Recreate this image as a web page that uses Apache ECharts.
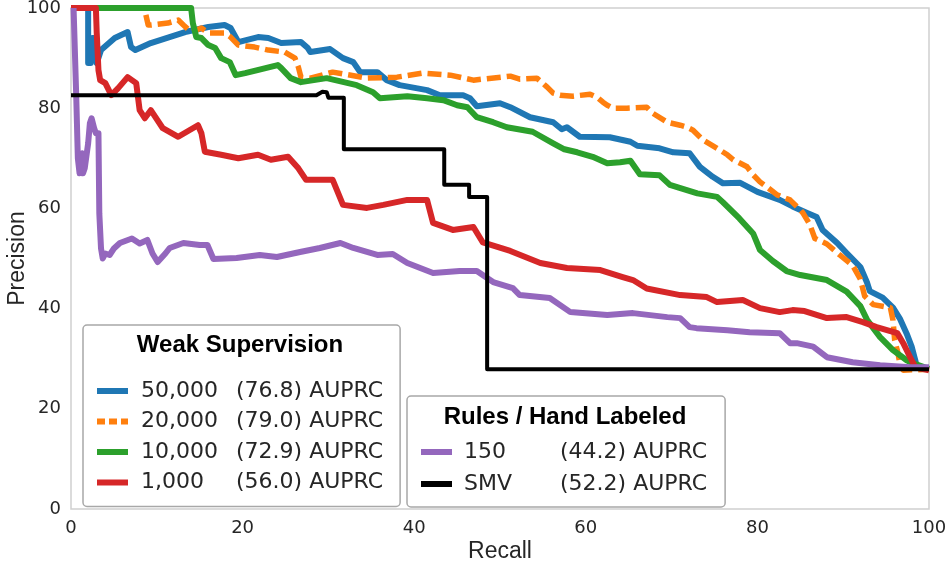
<!DOCTYPE html>
<html>
<head>
<meta charset="utf-8">
<script src="https://cdn.jsdelivr.net/npm/echarts@6/dist/echarts.min.js"></script>
<style>html,body{margin:0;padding:0;background:#fff;}#c{width:946px;height:570px;}</style>
</head>
<body>
<div id="c"></div>
<script>
// ---- tick labels ----
const xTicks = [0, 20, 40, 60, 80, 100];
const yTicks = [0, 20, 40, 60, 80, 100];

// ---- legend groups ----
const weakNames = ['50,000', '20,000', '10,000', '1,000'];
const weakAUPRC = ['76.8', '79.0', '72.9', '56.0'];
const ruleNames = ['150', 'SMV'];
const ruleAUPRC = ['44.2', '52.2'];

// ---- series values: [recall, precision] ----
const ws50000 = [[0,100],[2.0,100],[2.0,89],[2.3,89],[2.5,94],[2.8,94],[3.0,89],[3.5,91.6],[5.1,94],[6.6,95.2],[7.0,92.2],[7.5,91.6],[9.3,93],[13.3,95.2],[16.0,96.2],[17.9,96.6],[18.6,96],[19.5,93.2],[21.8,94.2],[23.0,94],[24.5,93],[26.8,93.2],[27.6,92],[27.9,91.2],[30.2,91.8],[31.7,90],[32.9,89.2],[33.7,87.2],[35.7,87.2],[36.8,85.6],[38.3,84.6],[41.5,83.6],[43.0,82.6],[45.7,82.6],[46.5,82],[47.3,80.4],[50.0,81],[51.2,80.2],[53.5,78.2],[56.2,77.2],[57.2,75.8],[57.8,76.2],[59.3,74.3],[62.8,74.2],[65.2,73.3],[66.0,72.5],[68.6,72],[70.2,71.2],[72.1,71],[73.3,68.3],[74.8,66.3],[76.0,65],[78.0,65.1],[80.0,63.3],[82.6,61.7],[84.1,60.4],[85.8,59.1],[86.9,58.3],[87.6,55.7],[89.3,53.1],[90.4,51.1],[92.0,48.3],[92.8,45.1],[93.1,43.5],[94.6,42.2],[95.8,40.2],[96.6,38],[97.4,35],[98.0,32.3],[98.4,29.7],[98.6,28.2],[100,28]];
const ws20000 = [[0,100],[8.5,100],[8.6,99.6],[9.0,96.6],[9.3,96.6],[11.3,97],[12.5,97.6],[13.1,96.6],[14.0,95.2],[15.2,96],[16.0,95],[17.9,95],[18.6,94.2],[19.5,92.6],[21.4,92.2],[23.0,91.6],[24.9,91.2],[26.1,90],[26.5,88.2],[26.8,86.2],[27.9,86],[30.5,87.2],[34.5,86],[38.0,86.2],[41.0,87],[44.2,86.6],[46.9,85.6],[51.2,86.4],[52.3,85.8],[54.3,86],[55.5,84.2],[56.2,83],[57.0,82.6],[58.5,82.4],[60.5,82.8],[61.3,82.2],[62.0,81.2],[62.5,80.6],[63.2,80],[64.8,80],[67.1,80.2],[67.8,79],[69.5,77.2],[71.0,76.6],[71.8,76.2],[72.5,75.6],[73.7,73.6],[75.3,72],[76.5,70.7],[77.2,69.7],[78.0,69],[78.8,68.3],[79.5,66.7],[80.3,65.3],[81.1,64.3],[82.3,62.7],[83.8,61.7],[85.0,59.7],[85.3,59.1],[86.1,56.8],[86.7,54],[88.1,52.9],[89.6,50.7],[91.1,48.6],[92.0,45.9],[92.5,42.5],[93.5,40.8],[95.5,40.2],[95.8,37.7],[96.0,33.7],[96.4,31],[96.6,29],[97.0,27.7],[100,27.9]];
const ws10000 = [[0,100],[14.0,100],[14.2,97],[14.6,94.2],[15.2,94],[16.0,92.6],[16.8,92],[17.5,90],[18.5,89.2],[19.2,86.6],[20.3,87],[24.1,88.6],[24.5,88],[25.6,86],[26.8,85.2],[29.8,86],[33.3,84.6],[35.2,83.2],[36.0,82],[39.2,82.4],[41.5,82],[43.4,81.6],[45.0,80.6],[46.2,80.2],[47.3,78.2],[49.2,77.2],[50.8,76.2],[53.8,75.3],[56.2,73],[57.5,71.8],[59.0,71.2],[60.8,70.3],[62.5,69],[64.0,69.2],[65.2,69.5],[66.3,66.8],[68.6,66.6],[69.8,64.7],[73.0,63.0],[75.3,62.3],[76.0,61.2],[77.9,58.0],[79.5,55],[80.3,51.7],[81.8,49.5],[83.4,47.5],[85.0,46.7],[88.1,45.7],[90.4,43.4],[92.0,40.5],[92.8,37.7],[94.3,34.3],[95.8,31.7],[97.4,29.7],[98.1,29.1],[100,28]];
const ws1000 = [[0,100],[2.9,100],[3.0,95],[3.2,87.6],[3.4,85.6],[4.0,85],[4.7,82.6],[5.5,84],[6.6,86.2],[7.6,85],[8.0,79.6],[8.6,78],[9.3,79.6],[10.7,76],[12.5,74.3],[14.8,76.6],[15.2,75],[15.6,71.3],[17.5,70.7],[19.5,70],[21.8,70.7],[23.3,69.7],[25.3,70.3],[26.5,68],[27.4,65.7],[30.5,65.7],[31.7,60.7],[34.5,60.1],[36.4,60.7],[39.2,61.7],[41.5,61.7],[42.2,57.1],[44.5,55.7],[46.9,56.3],[48.0,53.2],[51.2,51.5],[54.7,49.1],[57.8,48.1],[61.7,47.7],[64.3,46.3],[65.5,45.7],[67.1,44],[71.0,42.7],[74.1,42.3],[75.3,41.3],[78.3,41.7],[80.3,40.1],[82.6,39.3],[84.1,39.7],[85.5,39.5],[88.1,38.1],[90.4,38.3],[92.3,37.3],[93.9,36.3],[96.3,35.1],[97.0,33.1],[97.8,30.3],[98.4,28.3],[100,27.7]];
const rh150 = [[0.3,100],[0.5,100],[0.6,83],[0.8,70],[1.0,67],[1.3,71],[1.4,67],[1.6,68],[2.0,73],[2.2,77],[2.4,78],[2.7,76],[2.9,75],[3.2,75],[3.3,59],[3.5,52],[3.7,50],[4.0,51],[4.5,50.7],[5.0,52],[5.7,53.1],[7.1,54],[8.0,53],[8.9,53.7],[9.5,51],[10.1,49.3],[11.0,51],[11.5,52.1],[13.1,53.1],[15.0,52.7],[15.9,52.7],[16.6,49.9],[19.3,50.1],[22.0,50.7],[24.0,50.3],[26.7,51.3],[29.0,52.1],[31.4,53.1],[32.9,52.1],[35.7,50.7],[37.5,50.9],[39.2,49.1],[42.2,47.1],[45.3,47.5],[47.3,47.5],[48.5,46.1],[49.2,45.3],[51.5,44.1],[52.3,42.7],[55.8,42.1],[58.2,39.3],[62.5,38.7],[65.5,39.1],[69.5,38.3],[71.0,38.1],[72.1,36.3],[72.9,36.1],[76.5,35.7],[79.1,35.3],[82.6,35.1],[83.8,33.1],[84.6,33.1],[86.5,32.4],[88.1,30.3],[91.1,29.3],[94.3,28.7],[97.8,28.3],[100,28.3]];
const rhSMV = [[0,82.6],[28.6,82.6],[29.3,83.3],[29.8,83.2],[30.0,82.1],[31.8,82.1],[31.8,71.8],[43.5,71.8],[43.5,64.7],[46.4,64.7],[46.4,62.3],[48.5,62.3],[48.5,27.9],[100,27.9]];

const colors = ['#1f77b4', '#ff7f0e', '#2ca02c', '#d62728', '#9467bd', '#000000'];
const seriesData = [ws50000, ws20000, ws10000, ws1000, rh150, rhSMV];
const allNames = weakNames.concat(ruleNames);

const chart = echarts.init(document.getElementById('c'), null, {renderer: 'canvas'});

const series = seriesData.map((d, i) => ({
  name: allNames[i],
  type: 'line',
  data: d,
  symbol: 'none',
  showSymbol: false,
  color: colors[i],
  z: 2 + i,
  lineStyle: {
    color: colors[i],
    width: i === 5 ? 4 : (i === 1 ? 5.5 : 6),
    type: i === 1 ? [14, 6] : 'solid',
    cap: 'butt',
    join: 'round'
  },
  animation: false
}));

const dashIcon = 'path://M0 0H8V6H0Z M12 0H20V6H12Z M24 0H31V6H24Z';

function legendCfg(names, auprc, opts) {
  return Object.assign({
    orient: 'vertical',
    selectedMode: false,
    itemWidth: 31,
    itemHeight: 6,
    borderColor: '#a8a8a8',
    borderWidth: 1.5,
    borderRadius: 4,
    backgroundColor: 'rgba(255,255,255,0.85)',
    data: names.map(n => n === '20,000' ? {name: n, icon: dashIcon} : {name: n, icon: 'rect'}),
    formatter: n => '{a|' + n + '}{b|(' + auprc[names.indexOf(n)] + ') AUPRC}',
    textStyle: {
      fontFamily: 'DejaVu Sans', fontSize: 22, color: '#262626', lineHeight: 20,
      rich: {
        a: {fontFamily: 'DejaVu Sans', fontSize: 22, color: '#262626', lineHeight: 20, width: opts.colW, padding: [0, 0, 0, opts.textPad]},
        b: {fontFamily: 'DejaVu Sans', fontSize: 22, color: '#262626', lineHeight: 20}
      }
    }
  }, opts.base);
}

const option = {
  backgroundColor: '#ffffff',
  animation: false,
  grid: {left: 71, right: 17, top: 8, bottom: 61, show: true, borderColor: '#d0d0d0', borderWidth: 1.5, backgroundColor: 'transparent', containLabel: false, outerBoundsMode: 'none'},
  xAxis: {
    type: 'value', min: xTicks[0], max: xTicks[xTicks.length - 1], interval: 20,
    name: 'Recall', nameLocation: 'middle', nameGap: 31, nameMoveOverlap: false,
    nameTextStyle: {fontFamily: 'Liberation Sans', fontSize: 23, color: '#262626'},
    axisLine: {show: false}, axisTick: {show: false}, splitLine: {show: false},
    axisLabel: {fontFamily: 'DejaVu Sans', fontSize: 18, color: '#262626', margin: 10}
  },
  yAxis: {
    type: 'value', min: yTicks[0], max: yTicks[yTicks.length - 1], interval: 20,
    name: 'Precision', nameLocation: 'middle', nameGap: 42, nameMoveOverlap: false,
    nameTextStyle: {fontFamily: 'Liberation Sans', fontSize: 23, color: '#262626'},
    axisLine: {show: false}, axisTick: {show: false}, splitLine: {show: false},
    axisLabel: {fontFamily: 'DejaVu Sans', fontSize: 18, color: '#262626', margin: 10}
  },
  legend: [
    legendCfg(weakNames, weakAUPRC, {colW: 95, textPad: 8, base: {left: 83, top: 325, padding: [55, 17, 13, 14], itemGap: 8.5}}),
    legendCfg(ruleNames, ruleAUPRC, {colW: 96, textPad: 7, base: {left: 407, top: 396, padding: [45, 18, 12, 14], itemGap: 10}})
  ],
  graphic: [
    {type: 'text', z: 100, x: 240, y: 345, style: {text: 'Weak Supervision', textAlign: 'center', textVerticalAlign: 'middle', font: 'bold 24px "Liberation Sans"', fill: '#000'}},
    {type: 'text', z: 100, x: 565, y: 417, style: {text: 'Rules / Hand Labeled', textAlign: 'center', textVerticalAlign: 'middle', font: 'bold 24px "Liberation Sans"', fill: '#000'}}
  ],
  series: series
};

chart.setOption(option);
</script>
</body>
</html>
